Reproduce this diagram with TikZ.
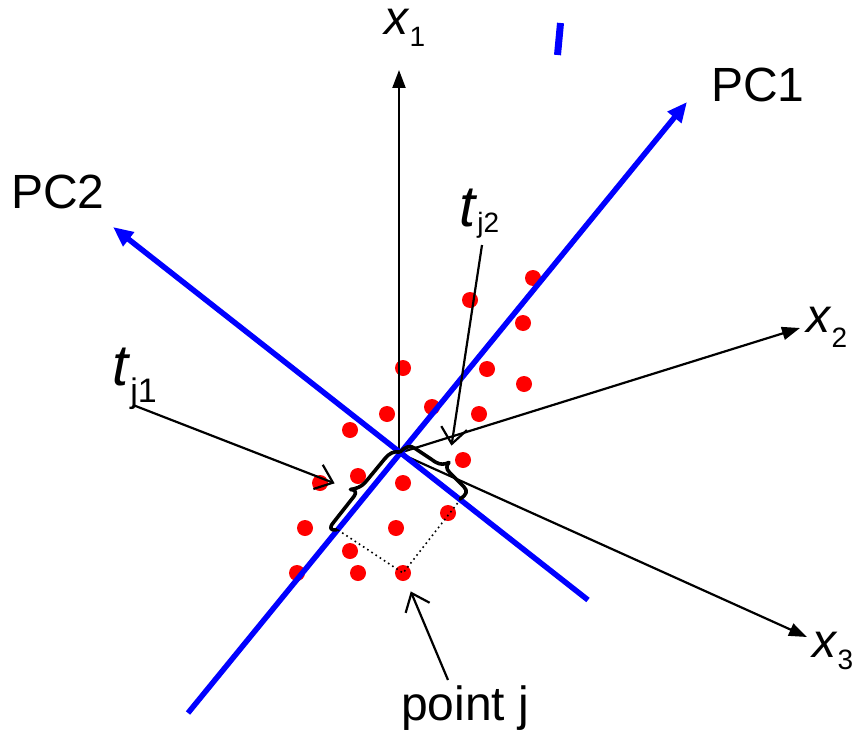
\documentclass[tikz,border=0pt]{standalone}
\usepackage{fontspec}
\setmainfont{Liberation Sans}
\usetikzlibrary{arrows.meta}
\definecolor{pcblue}{RGB}{0,0,255}
\definecolor{ptred}{RGB}{255,0,0}
\newcommand{\subsmall}{\fontsize{28}{30}\selectfont}
\newcommand{\subbig}{\fontsize{34}{38}\selectfont}
\newcommand{\tbig}{\fontsize{58}{60}\selectfont}

\begin{document}
\begin{tikzpicture}[
    x=1pt, y=-1pt,
    font=\fontsize{48}{56}\selectfont,
    lbl/.style={inner sep=0pt, anchor=base west},
    axisline/.style={line width=2.2pt, -{Triangle[length=18pt, width=13pt]}},
    pcline/.style={line width=5.5pt, draw=pcblue, -{Triangle[length=20pt, width=17pt]}},
    sample/.style={circle, fill=ptred, inner sep=0pt, minimum size=16pt},
    proj/.style={line width=1.6pt, dash pattern=on 1.6pt off 3.4pt},
    callout/.style={line width=2.2pt, -{Straight Barb[length=16pt, width=26pt]}, shorten >=17pt},
    bracket/.style={line width=3.6pt, line cap=round, line join=round},
  ]
  \useasboundingbox (0,0) rectangle (853,733);
  % data cloud
    \node[sample] (d1)  at (533,278) {};
    \node[sample] (d2)  at (470,300) {};
    \node[sample] (d3)  at (523,323) {};
    \node[sample] (d4)  at (403,368) {};
    \node[sample] (d5)  at (487,369) {};
    \node[sample] (d6)  at (524,384) {};
    \node[sample] (d7)  at (387,414) {};
    \node[sample] (d8)  at (432,407) {};
    \node[sample] (d9)  at (479,414) {};
    \node[sample] (d10) at (350,430) {};
    \node[sample] (d11) at (463,460) {};
    \node[sample] (d12) at (358,476) {};
    \node[sample] (d13) at (320,483) {};
    \node[sample] (d14) at (403,483) {};
    \node[sample] (d15) at (305,528) {};
    \node[sample] (d16) at (396,528) {};
    \node[sample] (d17) at (448,513) {};
    \node[sample] (d18) at (350,551) {};
    \node[sample] (d19) at (297,573) {};
    \node[sample] (d20) at (358,573) {};
    \node[sample] (pj)  at (403,573) {};
  % axes
    \coordinate (O)      at (399,453);
    \coordinate (x1end)  at (399,70);
    \coordinate (x2end)  at (800,328);
    \coordinate (x3end)  at (807,637);
    \coordinate (pc1beg) at (188,713);
    \coordinate (pc1end) at (687,102);
    \coordinate (pc2beg) at (588,600);
    \coordinate (pc2end) at (113,227);
    \draw[axisline] (O) -- (x1end);
    \draw[axisline] (O) -- (x2end);
    \draw[axisline] (O) -- (x3end);
    \draw[pcline] (pc1beg) -- (pc1end);
    \draw[pcline] (pc2beg) -- (pc2end);
    \draw[draw=pcblue, line width=7pt] (560.5,23) -- (557.5,55);
  % projections of point j
    \coordinate (pj1) at (338,530);
    \coordinate (pj2) at (460,500);
    \draw[proj] (pj1) -- (pj.center) -- (pj2);
  % scores as brackets
    \begin{scope}[shift={(pj1)}, x={(0.627,-0.779)}, y={(-0.779,-0.627)}]
      \draw[bracket] (0,3) .. controls (-1,15) and (2,21) .. (9,21) -- (43,22)
        .. controls (48,23) and (51,30) .. (51,40) coordinate (b1tip)
        .. controls (52,30) and (55,23) .. (60,22) -- (91,21)
        .. controls (98,21) and (101,15) .. (100,3);
    \end{scope}
    \begin{scope}[shift={(O)}, x={(0.786,0.619)}, y={(0.619,-0.786)}]
      \draw[bracket] (0,2) .. controls (-1,14) and (1,22) .. (7,22) -- (31,25)
        .. controls (36,26) and (39,31) .. (40,38) coordinate (b2tip)
        .. controls (41,31) and (43,27) .. (48,26) -- (69,22)
        .. controls (75,21) and (77,14) .. (76,3);
    \end{scope}
  % labels
    \node[lbl] (pc1lab) at (711,102) {PC1};
    \node[lbl] (pc2lab) at (11,208)  {PC2};
    \node[lbl] (x1lab)  at (384,35)  {\textit{x}\raisebox{-12pt}{\subsmall 1}};
    \node[lbl] (x2lab)  at (806,332) {\textit{x}\raisebox{-15pt}{\subsmall 2}};
    \node[lbl] (x3lab)  at (812,657) {\textit{x}\raisebox{-12pt}{\subsmall 3}};
    \node[lbl] (tj1lab) at (112,385) {\tbig\textit{t}\raisebox{-17pt}{\subbig j1}};
    \node[lbl] (tj2lab) at (459,226) {\tbig\textit{t}\raisebox{-6pt}{\subsmall j2}};
    \node[lbl] (pjlab)  at (401,720) {point j};
  % pointers
    \coordinate (tj1tail) at (133,405);
    \coordinate (tj2tail) at (482,245);
    \coordinate (pjtail)  at (448,680);
    \draw[callout] (tj1tail) -- (b1tip);
    \draw[callout] (tj2tail) -- (b2tip);
    \draw[callout, shorten >=20pt] (pjtail) -- (pj.center);
\end{tikzpicture}
\end{document}
